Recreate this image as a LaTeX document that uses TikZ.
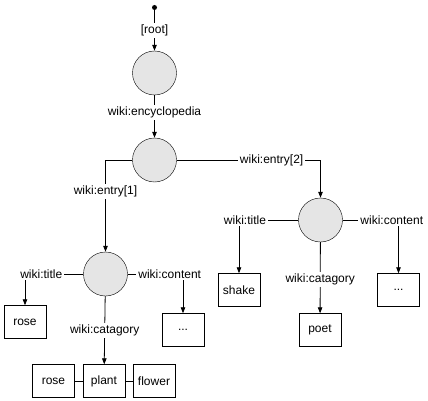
\documentclass[tikz,border=0pt]{standalone}
\usepackage{fontspec}
\setmainfont{Liberation Sans}
\usetikzlibrary{arrows.meta}
\begin{document}
\begin{tikzpicture}[x=1pt, y=-1pt, font=\fontsize{12}{14}\selectfont,
    res/.style={circle, draw, fill=black!10, minimum size=44pt, inner sep=0pt},
    val/.style={draw, minimum width=42pt, minimum height=33pt, inner sep=0pt},
    prop/.style={fill=white, inner sep=2pt},
    link/.style={line width=0.8pt, -{Triangle[length=6pt,width=4.5pt]}}]
    \useasboundingbox (0,0) rectangle (428,401);
    \node[circle, fill=black, inner sep=0pt, minimum size=5pt] (root) at (154.5,7.5) {};
    \node[res] (c1) at (154.5,73) {};
    \node[res] (c2) at (154.5,160) {};
    \node[res] (c3) at (105.5,274) {};
    \node[res] (c4) at (320.5,220) {};
    \node[val] (rose) at (25,322) {rose};
    \node[val] (more) at (183,330) {...};
    \node[val] (rosecat) at (53.5,381) {rose};
    \node[val] (plant) at (104,381) {plant};
    \node[val] (flower) at (154,381) {flower};
    \node[val] (shake) at (239,290) {shake};
    \node[val] (poet) at (320,330) {poet};
    \node[val] (moretoo) at (398.5,290) {...};
    \draw[link] (root) -- node[prop]{[root]} (c1);
    \draw[link] (c1) -- node[prop, pos=0.4]{wiki:encyclopedia} (c2);
    \draw[link] (c2.west) -| node[prop, pos=0.67]{wiki:entry[1]} (c3.north);
    \draw[link] (c2.east) -| node[prop, pos=0.33]{wiki:entry[2]} (c4.north);
    \draw[link] (c3.west) -| node[prop, pos=0.36]{wiki:title} (rose.north);
    \draw[link] (c3.east) -| node[prop, pos=0.38]{wiki:content} (more.north);
    \draw[link] (c3) -- node[prop]{wiki:catagory} (plant);
    \draw[link] (c4.west) -| node[prop, pos=0.45]{wiki:title} (shake.north);
    \draw[link] (c4.east) -| node[prop, pos=0.44]{wiki:content} (moretoo.north);
    \draw[link] (c4) -- node[prop, pos=0.53]{wiki:catagory} (poet);
    \draw[line width=0.8pt] (rosecat) -- (plant) (plant) -- (flower);
\end{tikzpicture}
\end{document}
